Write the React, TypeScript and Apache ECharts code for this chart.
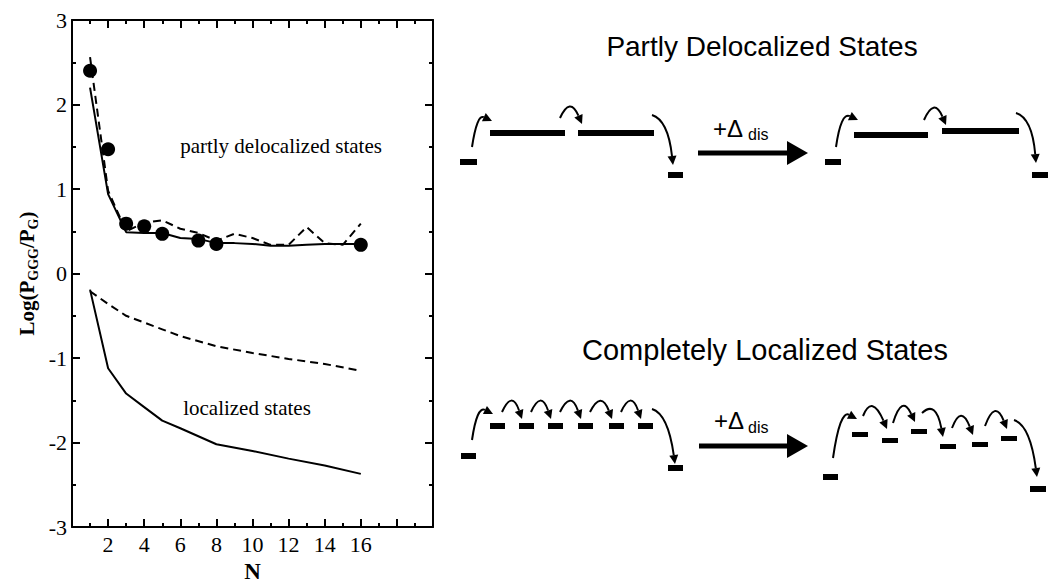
import React, { useEffect, useRef } from "react";
import * as echarts from "echarts";

// ---- data ----
const nDots = [1, 2, 3, 4, 5, 7, 8, 16];
const dotValues = [2.4, 1.47, 0.59, 0.56, 0.47, 0.39, 0.35, 0.34];

const nDeloc = [1, 2, 3, 4, 5, 6, 7, 8, 9, 10, 11, 12, 13, 14, 15, 16];
const delocSolid = [2.2, 0.94, 0.49, 0.48, 0.48, 0.42, 0.41, 0.36, 0.36, 0.35, 0.33, 0.33, 0.34, 0.35, 0.35, 0.35];
const delocDashed = [2.56, 0.98, 0.5, 0.6, 0.63, 0.53, 0.48, 0.39, 0.47, 0.42, 0.34, 0.34, 0.55, 0.36, 0.34, 0.59];

const nLoc = [1, 2, 3, 4, 5, 6, 8, 10, 12, 14, 16];
const locDashed = [-0.21, -0.36, -0.5, -0.58, -0.66, -0.74, -0.86, -0.94, -1.01, -1.07, -1.15];
const locSolid = [-0.19, -1.12, -1.42, -1.58, -1.74, -1.83, -2.02, -2.1, -2.19, -2.27, -2.37];

const xLabelMax = 16;

const pairs = (xs: number[], ys: number[]) => xs.map((x, i) => [x, ys[i]]);

function arrow(x1: number, y1: number, cx: number, cy: number, x2: number, y2: number, lw = 2, hl = 9, hw = 4.5) {
  const dx = x2 - cx, dy = y2 - cy;
  const L = Math.hypot(dx, dy);
  const ux = dx / L, uy = dy / L;
  const bx = x2 - ux * hl, by = y2 - uy * hl;
  const nx = -uy, ny = ux;
  return [
    { type: "bezierCurve", silent: true, shape: { x1, y1, x2: bx, y2: by, cpx1: cx, cpy1: cy }, style: { stroke: "#000", lineWidth: lw, fill: null } },
    { type: "polygon", silent: true, shape: { points: [[x2, y2], [bx + nx * hw, by + ny * hw], [bx - nx * hw, by - ny * hw]] }, style: { fill: "#000" } },
  ];
}
function bar(x: number, y: number, w: number, h: number) {
  return { type: "rect", silent: true, shape: { x, y, width: w, height: h }, style: { fill: "#000" } };
}
function bigArrow(x1: number, x2: number, tip: number, y: number) {
  return [
    { type: "line", silent: true, shape: { x1, y1: y, x2: x2 + 2, y2: y }, style: { stroke: "#000", lineWidth: 5 } },
    { type: "polygon", silent: true, shape: { points: [[x2, y - 12], [tip, y], [x2, y + 12]] }, style: { fill: "#000" } },
  ];
}
function txt(text: string, x: number, y: number, size: number, family: string, align = "center", weight = "normal") {
  return { type: "text", silent: true, x, y, style: { text, fontSize: size, fontFamily: family, fontWeight: weight, fill: "#000", align, verticalAlign: "middle" } };
}

function buildGraphic() {
  const sans = "Liberation Sans";
  const serif = "Liberation Serif";
  const g: any[] = [];
  // titles
  g.push(txt("Partly Delocalized States", 762, 46, 28, sans));
  g.push(txt("Completely Localized States", 765, 350, 29, sans));
  // in-plot annotations
  g.push(txt("partly delocalized states", 281, 146, 21, serif));
  g.push(txt("localized states", 247, 408, 21, serif));

  // ---- top-left diagram ----
  g.push(bar(460, 159, 17, 6), bar(490, 130, 75, 6), bar(578, 130, 76, 6), bar(668, 172, 15, 6));
  g.push(...arrow(472, 147, 477, 114, 492, 121));
  g.push(...arrow(560, 118, 570, 96, 582, 124));
  g.push(...arrow(652, 115, 668, 120, 673, 165));
  // top big arrow
  g.push(...bigArrow(698, 787, 808, 153));
  g.push(txt("+Δ", 713, 128, 24, sans, "left"), txt("dis", 748, 134, 16, sans, "left"));

  // ---- top-right diagram ----
  g.push(bar(825, 159, 16, 6), bar(854, 132, 74, 6), bar(942, 128, 77, 6), bar(1032, 172, 16, 6));
  g.push(...arrow(836, 147, 841, 112, 858, 120));
  g.push(...arrow(924, 120, 934, 97, 946, 125));
  g.push(...arrow(1016, 113, 1032, 118, 1036, 163));

  // ---- bottom-left diagram ----
  const blx = [490, 519, 548, 578, 609, 638];
  g.push(bar(461, 453, 15, 6), bar(668, 465, 15, 6));
  blx.forEach((x) => g.push(bar(x, 423, 15, 6)));
  g.push(...arrow(472, 440, 477, 406, 493, 414));
  for (let i = 0; i < blx.length - 1; i++) {
    const sx = blx[i] + 12, ex = blx[i + 1] + 3;
    g.push(...arrow(sx, 412, (sx + ex) / 2, 390, ex, 419));
  }
  g.push(...arrow(652, 409, 668, 414, 675, 464));
  // bottom big arrow
  g.push(...bigArrow(699, 787, 808, 446));
  g.push(txt("+Δ", 714, 420, 24, sans, "left"), txt("dis", 748, 427, 16, sans, "left"));

  // ---- bottom-right diagram ----
  g.push(bar(823, 474, 15, 6), bar(1030, 486, 16, 6));
  const brb = [[852, 432], [882, 438], [911, 429], [940, 444], [972, 442], [1001, 436]];
  brb.forEach(([x, y]) => g.push(bar(x, y, 16, 5)));
  g.push(...arrow(833, 458, 840, 410, 857, 419));
  g.push(...arrow(863, 416, 872, 394, 887, 429));
  g.push(...arrow(893, 423, 902, 394, 915, 422));
  g.push(...arrow(922, 413, 936, 400, 943, 437));
  g.push(...arrow(952, 428, 961, 404, 973, 435));
  g.push(...arrow(985, 426, 995, 399, 1007, 429));
  g.push(...arrow(1014, 420, 1030, 425, 1037, 477));
  return g;
}

export default function App() {
  const ref = useRef<HTMLDivElement>(null);
  useEffect(() => {
    if (!ref.current) return;
    const chart = echarts.init(ref.current, null, { renderer: "svg" });
    const serif = "Liberation Serif";
    const axisCommon = {
      axisLine: { onZero: false, lineStyle: { color: "#000", width: 2 } },
      axisTick: { inside: true, length: 8, lineStyle: { color: "#000", width: 2 } },
      minorTick: { show: true, splitNumber: 2, length: 4, lineStyle: { color: "#000", width: 2 } },
      splitLine: { show: false },
    };
    chart.setOption({
      animation: false,
      backgroundColor: "#fff",
      grid: { left: 72, top: 20, right: 617, bottom: 52, containLabel: false },
      xAxis: [
        {
          type: "value", position: "bottom", min: 0, max: 20, interval: 2, ...axisCommon,
          axisLabel: { color: "#000", fontSize: 22, fontFamily: serif, margin: 6, formatter: (v: number) => (v >= 2 && v <= xLabelMax ? String(v) : "") },
          name: "N", nameLocation: "middle", nameGap: 26,
          nameTextStyle: { color: "#000", fontSize: 23, fontFamily: serif, fontWeight: "bold" },
        },
        { type: "value", position: "top", min: 0, max: 20, interval: 2, ...axisCommon, axisLabel: { show: false } },
      ],
      yAxis: [
        {
          type: "value", position: "left", min: -3, max: 3, interval: 1, ...axisCommon,
          axisLabel: { color: "#000", fontSize: 22, fontFamily: serif, margin: 5 },
          name: "{m|Log(P}{s|GGG}{m|/P}{s|G}{m|)}", nameLocation: "middle", nameGap: 32, nameRotate: 90,
          nameTextStyle: {
            color: "#000",
            rich: {
              m: { fontSize: 21, fontFamily: serif, fontWeight: "bold", color: "#000" },
              s: { fontSize: 14, fontFamily: serif, fontWeight: "bold", color: "#000", padding: [12, 0, 0, 0] },
            },
          },
        },
        { type: "value", position: "right", min: -3, max: 3, interval: 1, ...axisCommon, axisLabel: { show: false } },
      ],
      series: [
        { type: "line", data: pairs(nDeloc, delocSolid), showSymbol: false, lineStyle: { color: "#000", width: 2 }, z: 3 },
        { type: "line", data: pairs(nDeloc, delocDashed), showSymbol: false, lineStyle: { color: "#000", width: 2, type: [8, 5] }, z: 3 },
        { type: "line", data: pairs(nLoc, locSolid), showSymbol: false, lineStyle: { color: "#000", width: 2 }, z: 3 },
        { type: "line", data: pairs(nLoc, locDashed), showSymbol: false, lineStyle: { color: "#000", width: 2, type: [8, 5] }, z: 3 },
        { type: "scatter", data: pairs(nDots, dotValues), symbol: "circle", symbolSize: 14, itemStyle: { color: "#000", opacity: 1 }, z: 4 },
      ],
      graphic: buildGraphic(),
    });
    return () => chart.dispose();
  }, []);
  return <div ref={ref} style={{ position: "fixed", left: 0, top: 0, width: 1050, height: 588 }} />;
}
